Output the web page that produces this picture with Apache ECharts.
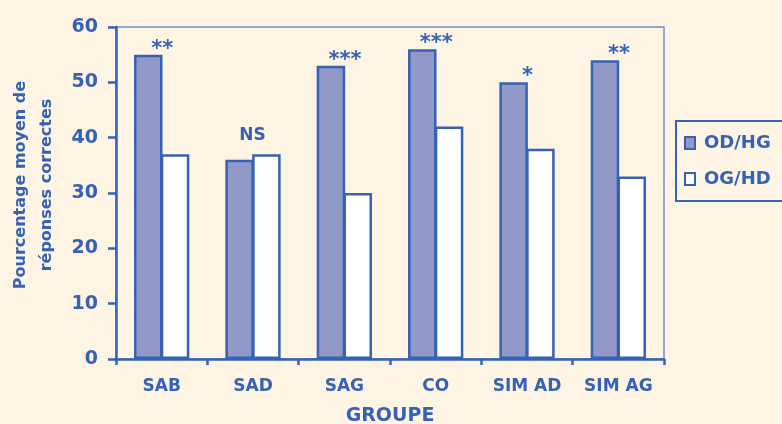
<!DOCTYPE html>
<html>
<head>
<meta charset="utf-8">
<script src="https://cdn.jsdelivr.net/npm/echarts@6/dist/echarts.min.js"></script>
<style>
  html, body { margin: 0; padding: 0; background: #fdf4e3; }
  #chart { width: 782px; height: 424px; }
</style>
</head>
<body>
<div id="chart"></div>
<script>
// Groups and mean percentage of correct answers per visual field condition
const groups = ['SAB', 'SAD', 'SAG', 'CO', 'SIM AD', 'SIM AG'];
const odHg = [55, 36, 53, 56, 50, 54];
const ogHd = [37, 37, 30, 42, 38, 33];
const significance = ['**', 'NS', '***', '***', '*', '**'];
const yTicks = [0, 10, 20, 30, 40, 50, 60];

const BLUE = '#3562b4';
const FILL = '#9199c8';
const FONT = 'DejaVu Sans';

// Significance marks sit above the taller bar of each pair, centred on the group
function seriesData(values, other, shift) {
  return values.map(function (v, i) {
    if (v < other[i]) return v;
    const mark = significance[i];
    const isNS = mark === 'NS';
    return {
      value: v,
      label: {
        show: true,
        position: 'top',
        offset: [shift, 0],
        distance: isNS ? 10 : -5,
        formatter: mark,
        color: BLUE,
        fontFamily: FONT,
        fontWeight: 'bold',
        fontSize: isNS ? 17 : 21
      }
    };
  });
}

const chart = echarts.init(document.getElementById('chart'), null, { renderer: 'canvas' });
chart.setOption({
  backgroundColor: '#fdf4e3',
  animation: false,
  grid: {
    left: 116, right: 118, top: 27, bottom: 65,
    containLabel: false,
    outerBoundsMode: 'none',
    show: true, borderColor: '#6d8fcb', borderWidth: 1.5,
    backgroundColor: 'transparent'
  },
  legend: {
    orient: 'vertical',
    left: 676, top: 121,
    padding: [13, 40, 13, 8],
    itemGap: 18,
    itemWidth: 10, itemHeight: 12,
    icon: 'rect',
    borderColor: BLUE, borderWidth: 2,
    textStyle: { color: BLUE, fontFamily: FONT, fontWeight: 'bold', fontSize: 18, padding: [0, 0, 0, 4] },
    data: ['OD/HG', 'OG/HD']
  },
  xAxis: {
    type: 'category',
    data: groups,
    name: 'GROUPE',
    nameLocation: 'middle',
    nameGap: 48,
    nameTextStyle: { color: BLUE, fontFamily: FONT, fontWeight: 'bold', fontSize: 19 },
    axisLine: { lineStyle: { color: BLUE, width: 2.5 } },
    axisTick: { show: true, length: 6, lineStyle: { color: BLUE, width: 2.5 } },
    axisLabel: { color: BLUE, fontFamily: FONT, fontWeight: 'bold', fontSize: 17, margin: 19 }
  },
  yAxis: {
    type: 'value',
    min: yTicks[0], max: yTicks[yTicks.length - 1], interval: 10,
    name: 'Pourcentage moyen de\nréponses correctes',
    nameLocation: 'middle',
    nameGap: 56,
    nameTextStyle: { color: BLUE, fontFamily: FONT, fontWeight: 'bold', fontSize: 16, lineHeight: 26, padding: [0, 0, 0, 16] },
    splitLine: { show: false },
    axisLine: { show: true, lineStyle: { color: BLUE, width: 2.5 } },
    axisTick: { show: true, length: 8, lineStyle: { color: BLUE, width: 2.5 } },
    axisLabel: { color: BLUE, fontFamily: FONT, fontWeight: 'bold', fontSize: 19, margin: 18 }
  },
  series: [
    {
      name: 'OD/HG', type: 'bar',
      data: seriesData(odHg, ogHd, 14),
      barWidth: 28.5, barGap: '-6%',
      itemStyle: { color: FILL, borderColor: BLUE, borderWidth: 2.5 }
    },
    {
      name: 'OG/HD', type: 'bar',
      data: seriesData(ogHd, odHg, -14),
      barWidth: 28.5, barGap: '-6%',
      itemStyle: { color: '#ffffff', borderColor: BLUE, borderWidth: 2.5 }
    }
  ]
});
</script>
</body>
</html>
